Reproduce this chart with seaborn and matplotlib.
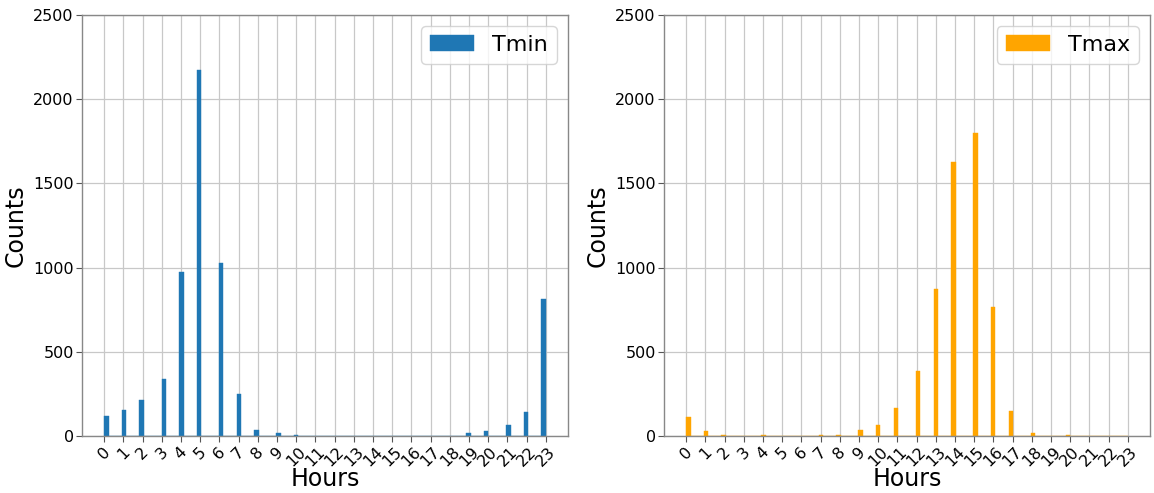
import numpy as np
import pandas as pd
import matplotlib
matplotlib.use("Agg")
import matplotlib.pyplot as plt
import seaborn as sns

hours = list(range(24))
tmin_counts = [120, 155, 215, 340, 975, 2175, 1025, 250, 35, 15, 5, 2, 2, 1, 1, 1, 1, 1, 2, 20, 30, 65, 145, 815]
tmax_counts = [110, 30, 8, 2, 5, 1, 2, 4, 8, 35, 65, 165, 385, 870, 1630, 1800, 765, 150, 18, 2, 5, 2, 1, 2]

sns.set_style("whitegrid")
plt.rcParams['font.family'] = ['DejaVu Sans']
plt.rcParams['text.color'] = 'black'
plt.rcParams['axes.labelcolor'] = 'black'
plt.rcParams['xtick.color'] = 'black'
plt.rcParams['ytick.color'] = 'black'

fig = plt.figure(figsize=(11.54, 4.93), dpi=100)
W, H = 1154, 493
ax1 = fig.add_axes([82 / W, (H - 436) / H, 486 / W, 421 / H])
ax2 = fig.add_axes([664 / W, (H - 436) / H, 486 / W, 421 / H])

df = pd.DataFrame({"Hours": hours, "Tmin": tmin_counts, "Tmax": tmax_counts})

for ax, col, color in [(ax1, "Tmin", "#1f77b4"), (ax2, "Tmax", "orange")]:
    sns.histplot(data=df, x="Hours", weights=col, bins=100, binrange=(0, 23),
                 color=color, alpha=1, edgecolor=color, linewidth=0.3,
                 label=col, ax=ax)
    ax.set_ylim(0, 2500)
    ax.set_xlim(-1.15, 24.15)
    ax.set_xticks(hours)
    ax.set_xticklabels([str(h) for h in hours], rotation=45, fontsize=11.5)
    ax.tick_params(axis='y', labelsize=11.5)
    ax.tick_params(axis='both', length=4, color='#555555', bottom=True, left=True, pad=2)
    ax.set_xlabel("Hours", fontsize=17, labelpad=-2)
    ax.set_ylabel("Counts", fontsize=17)
    ax.grid(True, color='#c8c8c8', linewidth=0.9)
    ax.set_axisbelow(True)
    for s in ax.spines.values():
        s.set_color('#888888')
        s.set_linewidth(1.0)
    ax.legend(loc='upper right', fontsize=16, frameon=True, handlelength=2.0)

fig.savefig("out.png", dpi=100)
